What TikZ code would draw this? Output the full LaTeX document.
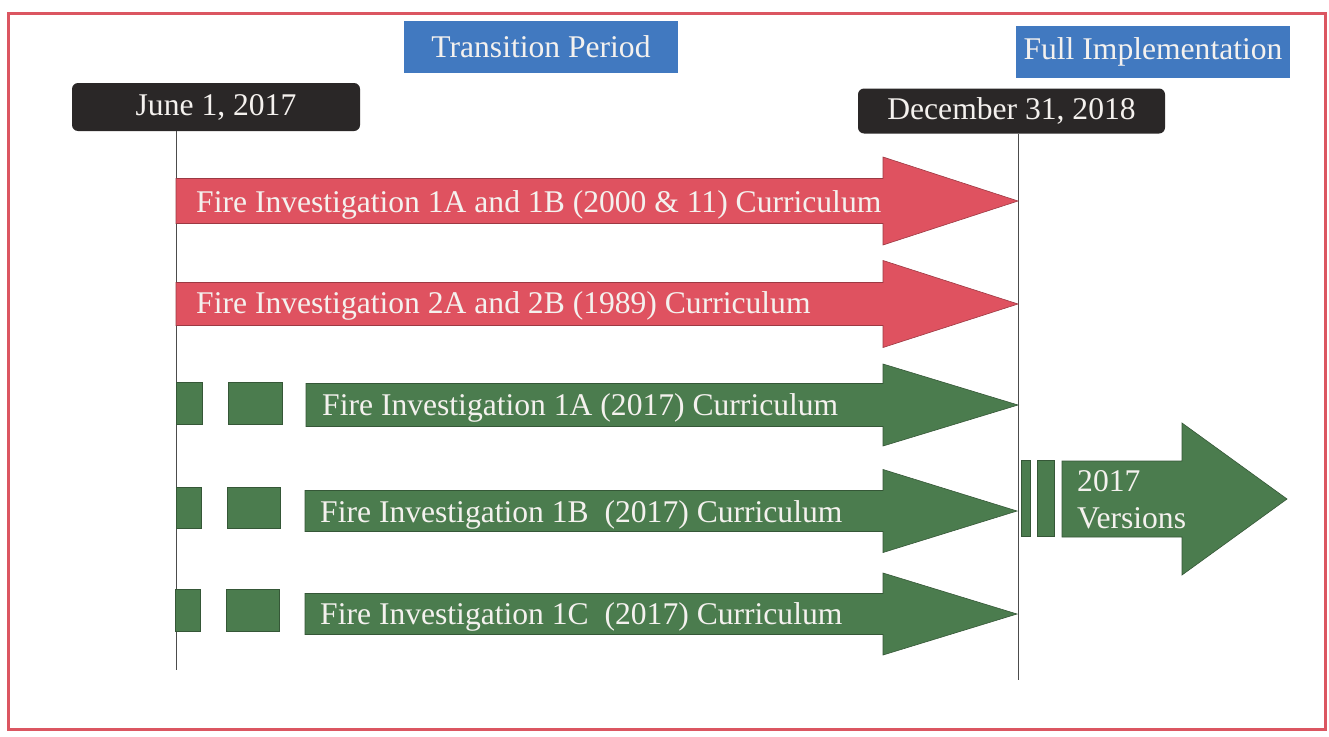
\documentclass[tikz,border=0pt]{standalone}
\usepackage{fontspec}
\setmainfont{Liberation Serif}
\definecolor{framered}{HTML}{DB5661}
\definecolor{arrred}{HTML}{DF5260}
\definecolor{arrgreen}{HTML}{4B7C4E}
\definecolor{boxblue}{HTML}{4179C0}
\definecolor{boxblack}{HTML}{2A2727}
\definecolor{txtwhite}{HTML}{F4F1EE}
\newcommand{\arrowpoly}[7]{% style, x0, xneck, xtip, yc, bh, hh
  \filldraw[#1] (#2,{#5-#6}) -- (#3,{#5-#6}) -- (#3,{#5-#7}) -- (#4,#5) -- (#3,{#5+#7}) -- (#3,{#5+#6}) -- (#2,{#5+#6}) -- cycle;}
\newcommand{\dashblock}[5]{% style, x0, x1, yc, bh
  \filldraw[#1] (#2,{#4-#5}) rectangle (#3,{#4+#5});}
\begin{document}
\begin{tikzpicture}[x=1pt,y=-1pt,
  every node/.style={font=\fontsize{31.6}{37}\selectfont, text=txtwhite},
  bluebox/.style={fill=boxblue, inner sep=0pt, minimum width=274pt, minimum height=52pt},
  datebox/.style={fill=boxblack, rounded corners=6pt, inner sep=0pt},
  timeline/.style={draw=black!70, line width=0.9pt},
  redarrow/.style={fill=arrred, draw=arrred!70!black, line width=0.6pt},
  greenarrow/.style={fill=arrgreen, draw=arrgreen!70!black, line width=0.6pt},
  arrowtext/.style={anchor=west, inner sep=0pt}]
\useasboundingbox (0,0) rectangle (1329,736);
\fill[white] (0,0) rectangle (1329,736);
\draw[framered, line width=3pt] (8,13) rectangle (1325,729);

% header boxes
\node[bluebox] (trans) at (541,47) {Transition Period};
\node[bluebox] (full) at (1153,52) {Full Implementation};
\node[datebox, minimum width=288pt, minimum height=48pt] (june) at (216,107) {June 1, 2017};
\node[datebox, minimum width=307pt, minimum height=45pt] (dec) at (1011.5,111) {December 31, 2018};

% timelines
\coordinate (jend) at (176,670);
\coordinate (dend) at (1018,680);
\draw[timeline] (june.south -| jend) -- (jend);
\draw[timeline] (dec.south -| dend) -- (dend);

% red arrows
\arrowpoly{redarrow}{176}{883}{1018}{201}{22.5}{44}
\node[arrowtext] (r1) at (196,205) {Fire Investigation 1A and 1B (2000 \& 11) Curriculum};
\arrowpoly{redarrow}{176}{883}{1018}{304}{21.5}{43.5}
\node[arrowtext] (r2) at (196,306) {Fire Investigation 2A and 2B (1989) Curriculum};

% green arrows
\dashblock{greenarrow}{176}{202}{403}{21}
\dashblock{greenarrow}{228}{282}{403}{21}
\arrowpoly{greenarrow}{306}{883}{1018}{405}{21.5}{41}
\node[arrowtext] (g1) at (322,408) {Fire Investigation 1A (2017) Curriculum};

\dashblock{greenarrow}{176}{201}{508}{20.5}
\dashblock{greenarrow}{227}{280}{508}{20.5}
\arrowpoly{greenarrow}{305}{883}{1017}{511}{20.5}{41.5}
\node[arrowtext] (g2) at (320,515) {Fire Investigation 1B \ (2017) Curriculum};

\dashblock{greenarrow}{175}{200}{610}{21}
\dashblock{greenarrow}{226}{279}{610}{21}
\arrowpoly{greenarrow}{305}{883}{1017}{614}{20.5}{41}
\node[arrowtext] (g3) at (320,617) {Fire Investigation 1C \ (2017) Curriculum};

% 2017 versions
\dashblock{greenarrow}{1021}{1030}{498}{38}
\dashblock{greenarrow}{1037}{1054}{498}{38}
\arrowpoly{greenarrow}{1062}{1182}{1287}{499}{38}{76}
\node[arrowtext, align=left] (ver) at (1077,500) {2017\\Versions};
\end{tikzpicture}
\end{document}
